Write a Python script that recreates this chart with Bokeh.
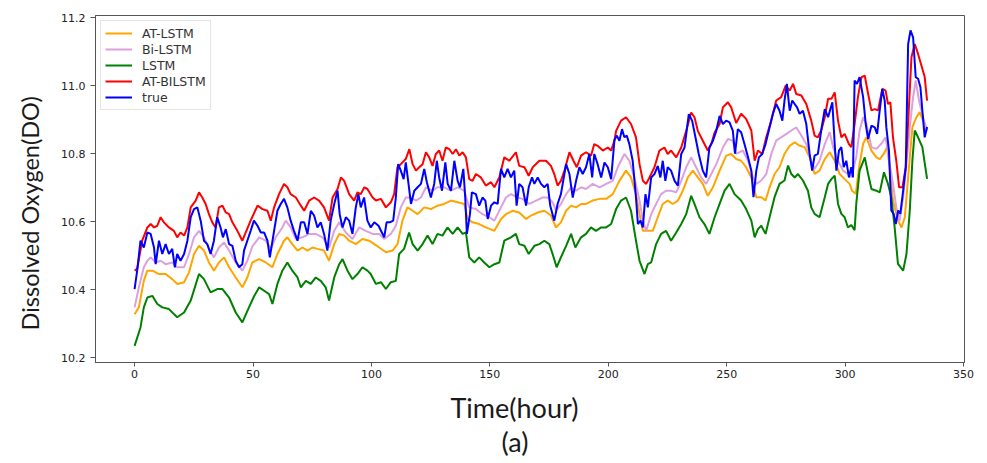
from bokeh.plotting import figure
from bokeh.models import Range1d, FixedTicker, Title, NumeralTickFormatter
from bokeh.embed import file_html
from bokeh.resources import INLINE

# ---------------- data ----------------
series_names = ["AT-LSTM", "Bi-LSTM", "LSTM", "AT-BILSTM", "true"]
x_ticks = [0, 50, 100, 150, 200, 250, 300, 350]
y_ticks = [10.2, 10.4, 10.6, 10.8, 11.0, 11.2]
x_title = "Time(hour)"
y_title = "Dissolved Oxygen(DO)"
panel_tag = "(a)"

t_true = [0, 1.1, 2.5, 3.9, 5.4, 6.8, 8.2, 8.9, 10.3, 11.7, 13.1, 14.5, 15.9, 17.0, 18.0, 19.4, 20.9, 22.3, 23.7, 25.1,
          26.5, 27.9, 29.3, 30.7, 32.1, 33.5, 34.9, 36.3, 37.3, 38.5, 39.9, 41.3, 42.7, 44.1, 45.5, 46.2, 47.6, 49.0, 50.4, 51.9,
          53.3, 54.7, 56.1, 57.1, 58.9, 60.3, 61.7, 63.1, 64.5, 65.9, 67.3, 68.8, 70.2, 71.6, 73.0, 74.4, 75.8, 77.2, 78.6, 80.0,
          81.4, 82.8, 84.3, 85.7, 86.6, 87.8, 89.2, 90.6, 92.0, 93.4, 94.5, 95.5, 96.9, 98.3, 99.7, 101.2, 103.0, 104.4, 105.4, 106.4,
          107.8, 109.2, 110.3, 111.3, 112.4, 113.6, 114.5, 115.5, 116.7, 118.1, 119.5, 120.9, 122.3, 123.4, 125.1, 126.5, 127.6, 128.6, 129.8, 131.2,
          132.2, 133.6, 135.0, 136.4, 137.4, 138.8, 139.6, 140.3, 141.6, 142.4, 144.1, 145.5, 146.9, 148.1, 149.1, 150.5, 151.9, 153.3, 154.7, 156.1,
          157.5, 158.9, 160.3, 161.3, 162.4, 163.8, 165.3, 166.4, 167.8, 168.8, 170.2, 171.6, 173.0, 174.4, 175.5, 177.2, 178.6, 180.0, 182.2, 183.6,
          185.0, 186.4, 187.8, 189.2, 190.6, 192.0, 193.2, 194.1, 195.5, 197.0, 198.4, 199.8, 201.2, 202.6, 203.6, 204.7, 205.8, 206.8, 207.8, 208.9,
          210.3, 211.7, 212.5, 213.6, 214.6, 215.7, 216.7, 218.1, 219.5, 220.9, 222.0, 223.0, 224.1, 225.1, 226.5, 228.0, 229.4, 230.8, 232.2, 234.0,
          235.4, 236.8, 238.2, 239.9, 241.3, 242.7, 244.2, 245.6, 247.0, 248.4, 249.8, 251.2, 252.6, 253.5, 254.7, 256.1, 257.5, 259.0, 260.4, 261.3,
          262.5, 263.6, 265.0, 266.4, 268.1, 269.5, 270.9, 272.3, 273.5, 274.4, 275.4, 276.6, 277.7, 278.7, 279.7, 280.8, 282.2, 283.6, 285.0, 286.1,
          287.1, 288.5, 289.9, 291.4, 292.8, 294.6, 295.6, 296.3, 297.4, 298.4, 299.4, 300.5, 301.6, 302.6, 303.3, 304.0, 305.0, 306.1, 307.6, 308.7,
          309.7, 311.1, 312.5, 313.5, 314.6, 315.7, 316.7, 317.4, 318.5, 319.5, 320.5, 321.4, 322.4, 323.3, 324.5, 325.6, 326.6, 327.6, 328.7, 329.8,
          330.8, 331.8, 332.6, 333.6, 334.6]
true_do = [10.402, 10.456, 10.544, 10.524, 10.568, 10.564, 10.524, 10.475, 10.544, 10.505, 10.534, 10.505, 10.52, 10.466, 10.505, 10.485, 10.505, 10.544, 10.613, 10.637,
           10.642, 10.603, 10.544, 10.534, 10.505, 10.544, 10.613, 10.583, 10.554, 10.578, 10.534, 10.529, 10.485, 10.466, 10.475, 10.515, 10.544, 10.573, 10.603, 10.588,
           10.568, 10.568, 10.544, 10.495, 10.573, 10.632, 10.652, 10.667, 10.642, 10.603, 10.573, 10.544, 10.598, 10.598, 10.564, 10.632, 10.618, 10.583, 10.598, 10.564,
           10.515, 10.603, 10.652, 10.691, 10.622, 10.583, 10.613, 10.603, 10.564, 10.642, 10.681, 10.642, 10.671, 10.603, 10.583, 10.598, 10.588, 10.568, 10.554, 10.598,
           10.598, 10.603, 10.671, 10.769, 10.75, 10.725, 10.774, 10.72, 10.652, 10.691, 10.701, 10.711, 10.755, 10.716, 10.671, 10.711, 10.779, 10.73, 10.691, 10.774,
           10.711, 10.691, 10.779, 10.72, 10.701, 10.755, 10.671, 10.564, 10.622, 10.686, 10.681, 10.647, 10.671, 10.662, 10.608, 10.647, 10.657, 10.652, 10.755, 10.73,
           10.755, 10.73, 10.75, 10.647, 10.711, 10.701, 10.647, 10.701, 10.73, 10.711, 10.73, 10.711, 10.701, 10.711, 10.647, 10.603, 10.652, 10.681, 10.769, 10.74,
           10.671, 10.72, 10.76, 10.74, 10.76, 10.799, 10.73, 10.799, 10.769, 10.73, 10.774, 10.76, 10.725, 10.84, 10.853, 10.838, 10.872, 10.848, 10.853, 10.828,
           10.779, 10.671, 10.593, 10.603, 10.583, 10.681, 10.642, 10.73, 10.74, 10.764, 10.73, 10.779, 10.72, 10.76, 10.75, 10.72, 10.706, 10.799, 10.818, 10.916,
           10.897, 10.848, 10.799, 10.75, 10.73, 10.818, 10.838, 10.867, 10.911, 10.887, 10.897, 10.892, 10.867, 10.80, 10.872, 10.863, 10.828, 10.789, 10.75, 10.672,
           10.75, 10.789, 10.799, 10.828, 10.877, 10.917, 10.946, 10.926, 10.897, 10.956, 11.005, 10.926, 10.956, 10.946, 10.936, 10.917, 10.926, 10.887, 10.799, 10.75,
           10.794, 10.799, 10.868, 10.931, 10.907, 10.951, 10.828, 10.75, 10.809, 10.819, 10.76, 10.779, 10.73, 10.76, 10.73, 11.015, 11.005, 11.025, 10.966, 10.887,
           10.843, 10.882, 10.877, 10.858, 10.927, 10.99, 10.956, 10.877, 10.809, 10.633, 10.623, 10.593, 10.633, 10.623, 10.691, 10.76, 11.122, 11.162, 11.142, 11.025,
           11.02, 10.995, 10.927, 10.848, 10.878]

t_at_bilstm = [0, 1.1, 3.2, 5.4, 6.8, 8.2, 9.6, 11.0, 12.4, 14.5, 16.6, 18.0, 19.4, 20.9, 22.3, 23.7, 25.8, 27.2, 28.6, 30.0,
               31.4, 32.8, 34.2, 35.6, 37.1, 38.5, 39.9, 41.3, 43.4, 45.5, 46.9, 49.0, 51.9, 54.0, 56.1, 57.5, 58.9, 61.0, 63.1, 64.5,
               65.9, 68.1, 70.2, 71.6, 73.7, 75.8, 77.9, 80.0, 82.1, 83.6, 85.7, 87.1, 88.5, 90.6, 92.7, 94.1, 95.5, 97.0, 98.3, 100.5,
               101.9, 104.0, 106.1, 108.2, 109.6, 111.0, 112.4, 114.5, 116.0, 117.4, 118.8, 120.2, 121.6, 123.0, 124.4, 125.8, 127.2, 128.6, 130.0, 131.4,
               132.9, 134.3, 135.7, 137.1, 138.5, 139.9, 141.3, 142.7, 144.1, 146.2, 148.3, 150.5, 151.9, 154.0, 156.1, 158.2, 161.0, 162.4, 164.6, 166.4,
               168.1, 170.9, 173.7, 175.8, 177.2, 178.6, 180.0, 181.5, 183.6, 185.3, 186.7, 188.5, 190.6, 192.7, 194.1, 195.5, 197.7, 199.8, 201.2, 202.6,
               203.3, 205.4, 207.5, 209.6, 211.7, 213.2, 214.6, 216.0, 217.4, 219.5, 221.6, 223.7, 225.1, 226.5, 228.7, 230.8, 232.9, 235.0, 236.4, 237.8,
               239.9, 242.0, 243.5, 244.9, 247.0, 248.4, 250.5, 251.9, 254.0, 256.1, 258.2, 260.4, 261.8, 263.2, 265.0, 266.7, 268.8, 270.9, 273.0, 274.9,
               276.6, 278.0, 279.4, 281.5, 283.6, 285.7, 287.1, 288.5, 289.9, 291.4, 292.8, 294.2, 295.6, 297.0, 298.4, 299.8, 301.6, 302.6, 304.0, 305.4,
               306.9, 308.3, 309.7, 311.1, 312.5, 313.9, 315.7, 317.1, 318.1, 319.1, 320.2, 321.6, 322.8, 324.2, 325.6, 327.0, 328.0, 329.4, 330.8, 332.2,
               333.6, 334.6]
at_bilstm = [10.456, 10.461, 10.544, 10.583, 10.593, 10.583, 10.588, 10.613, 10.598, 10.583, 10.573, 10.554, 10.568, 10.559, 10.583, 10.642, 10.662, 10.686, 10.671, 10.652,
             10.622, 10.598, 10.583, 10.642, 10.647, 10.627, 10.622, 10.598, 10.573, 10.544, 10.568, 10.603, 10.647, 10.637, 10.632, 10.603, 10.642, 10.681, 10.711, 10.701,
             10.681, 10.671, 10.647, 10.632, 10.662, 10.671, 10.662, 10.642, 10.603, 10.671, 10.696, 10.73, 10.72, 10.681, 10.662, 10.686, 10.681, 10.701, 10.696, 10.671,
             10.662, 10.667, 10.642, 10.657, 10.681, 10.76, 10.769, 10.784, 10.813, 10.769, 10.75, 10.76, 10.769, 10.804, 10.789, 10.764, 10.799, 10.809, 10.779, 10.818,
             10.813, 10.799, 10.813, 10.794, 10.804, 10.789, 10.725, 10.72, 10.74, 10.73, 10.706, 10.716, 10.701, 10.73, 10.789, 10.779, 10.804, 10.764, 10.76, 10.735,
             10.76, 10.779, 10.779, 10.764, 10.74, 10.706, 10.72, 10.75, 10.804, 10.779, 10.76, 10.794, 10.804, 10.794, 10.828, 10.823, 10.809, 10.818, 10.809, 10.838,
             10.867, 10.897, 10.907, 10.887, 10.848, 10.769, 10.72, 10.711, 10.73, 10.76, 10.809, 10.818, 10.799, 10.809, 10.789, 10.818, 10.867, 10.921, 10.907, 10.867,
             10.838, 10.809, 10.828, 10.862, 10.887, 10.936, 10.951, 10.936, 10.89, 10.917, 10.902, 10.868, 10.779, 10.809, 10.799, 10.848, 10.897, 10.956, 10.966, 11.0,
             10.985, 11.005, 10.975, 10.971, 10.946, 10.897, 10.853, 10.848, 10.868, 10.907, 10.961, 10.961, 10.98, 10.897, 10.848, 10.858, 10.828, 10.819, 10.887, 10.966,
             11.025, 11.029, 10.976, 10.927, 10.931, 10.927, 10.99, 10.985, 10.946, 10.951, 10.848, 10.779, 10.701, 10.701, 10.76, 10.946, 11.083, 11.122, 11.093, 11.059,
             11.025, 10.956]

t_bi_lstm = [0, 1.8, 3.9, 5.4, 6.8, 8.9, 11.0, 13.1, 15.9, 18.0, 20.9, 23.0, 25.1, 27.2, 29.3, 31.4, 33.5, 35.6, 37.8, 39.9,
             42.7, 45.5, 47.6, 49.7, 52.6, 55.4, 57.5, 59.6, 62.4, 63.8, 65.9, 68.1, 70.9, 73.7, 76.5, 79.3, 82.1, 84.3, 86.4, 89.2,
             92.0, 94.8, 97.6, 100.5, 103.3, 105.4, 108.2, 110.3, 112.4, 114.5, 116.7, 118.8, 120.9, 123.0, 125.8, 127.9, 130.7, 133.6, 136.4, 139.2,
             141.3, 144.1, 146.9, 149.8, 151.9, 154.7, 156.8, 158.9, 161.7, 163.8, 166.7, 169.5, 172.3, 174.4, 176.5, 178.0, 180.0, 182.2, 184.3, 186.4,
             188.5, 190.6, 193.4, 196.3, 199.1, 201.9, 204.0, 206.8, 208.9, 211.0, 213.2, 214.6, 216.0, 218.1, 220.2, 222.3, 224.4, 226.5, 228.7, 230.8,
             232.9, 235.0, 237.1, 239.2, 241.3, 243.5, 245.6, 248.4, 250.5, 252.6, 254.0, 256.8, 259.0, 261.1, 262.5, 264.6, 266.7, 268.8, 270.9, 273.0,
             275.2, 277.3, 279.4, 281.5, 283.6, 285.7, 287.1, 289.2, 291.4, 293.5, 294.9, 297.0, 299.1, 301.2, 302.6, 304.7, 306.1, 307.6, 309.0, 311.1,
             313.2, 315.3, 317.1, 318.8, 320.2, 321.6, 323.0, 324.5, 325.9, 327.3, 328.7, 329.8, 331.2, 332.9, 334.6]
bi_lstm = [10.348, 10.407, 10.466, 10.485, 10.495, 10.48, 10.485, 10.475, 10.48, 10.466, 10.466, 10.505, 10.554, 10.573, 10.554, 10.52, 10.495, 10.524, 10.539, 10.515,
           10.48, 10.456, 10.485, 10.527, 10.554, 10.544, 10.52, 10.554, 10.583, 10.603, 10.583, 10.549, 10.554, 10.564, 10.564, 10.554, 10.524, 10.573, 10.598, 10.568,
           10.549, 10.583, 10.573, 10.564, 10.564, 10.549, 10.564, 10.588, 10.642, 10.671, 10.671, 10.662, 10.671, 10.701, 10.691, 10.701, 10.701, 10.691, 10.701, 10.691,
           10.642, 10.637, 10.622, 10.613, 10.603, 10.642, 10.671, 10.681, 10.671, 10.667, 10.652, 10.662, 10.671, 10.671, 10.657, 10.632, 10.652, 10.681, 10.701, 10.691,
           10.701, 10.696, 10.711, 10.701, 10.711, 10.72, 10.76, 10.799, 10.779, 10.73, 10.662, 10.603, 10.573, 10.622, 10.652, 10.681, 10.691, 10.691, 10.686, 10.72,
           10.76, 10.789, 10.76, 10.73, 10.711, 10.74, 10.769, 10.818, 10.843, 10.838, 10.799, 10.809, 10.779, 10.73, 10.711, 10.721, 10.74, 10.799, 10.838, 10.848,
           10.858, 10.868, 10.877, 10.853, 10.828, 10.779, 10.755, 10.779, 10.828, 10.863, 10.819, 10.779, 10.75, 10.74, 10.731, 10.79, 10.868, 10.907, 10.887, 10.819,
           10.814, 10.829, 10.848, 10.77, 10.711, 10.642, 10.603, 10.672, 10.77, 10.878, 10.966, 11.015, 10.956, 10.907, 10.868]

t_at_lstm = [0, 1.8, 3.9, 5.4, 7.5, 10.3, 13.1, 15.9, 18.0, 20.9, 23.0, 25.1, 27.2, 29.3, 31.4, 33.5, 35.6, 37.8, 39.9, 42.7,
             45.5, 47.6, 49.7, 52.6, 55.4, 58.2, 60.3, 63.1, 64.5, 66.6, 68.8, 70.9, 73.0, 75.1, 77.2, 80.0, 82.1, 84.3, 86.4, 88.5,
             90.6, 93.4, 96.2, 99.0, 101.2, 103.3, 106.1, 108.9, 111.0, 113.1, 115.2, 117.4, 119.5, 122.3, 125.1, 127.9, 130.7, 133.6, 136.4, 139.2,
             140.6, 142.7, 145.5, 148.3, 151.9, 154.7, 156.8, 159.6, 162.4, 165.3, 167.4, 170.2, 173.0, 175.8, 177.9, 180.0, 182.2, 184.3, 186.4, 188.5,
             190.6, 193.4, 196.3, 199.1, 201.9, 204.7, 207.5, 209.6, 211.7, 213.2, 214.6, 216.7, 218.8, 220.9, 223.0, 225.1, 227.2, 229.4, 231.5, 233.6,
             235.7, 237.8, 239.9, 242.0, 244.2, 247.0, 249.8, 251.9, 254.0, 256.1, 258.2, 260.4, 262.5, 264.6, 266.4, 268.1, 270.2, 272.3, 274.4, 276.6,
             278.7, 280.8, 282.9, 285.0, 287.1, 289.2, 291.4, 293.5, 295.6, 297.7, 299.8, 301.9, 303.0, 304.5, 305.9, 307.6, 309.0, 311.1, 313.2, 314.6,
             316.3, 317.7, 318.8, 320.2, 322.4, 323.8, 325.2, 326.6, 328.4, 330.1, 331.5, 332.9, 334.3]
at_lstm = [10.328, 10.348, 10.426, 10.456, 10.456, 10.446, 10.446, 10.431, 10.417, 10.422, 10.451, 10.505, 10.529, 10.515, 10.48, 10.456, 10.48, 10.495, 10.466, 10.436,
           10.407, 10.436, 10.48, 10.49, 10.48, 10.466, 10.505, 10.544, 10.554, 10.534, 10.515, 10.524, 10.515, 10.524, 10.52, 10.515, 10.485, 10.534, 10.564, 10.559,
           10.544, 10.534, 10.549, 10.544, 10.534, 10.524, 10.51, 10.515, 10.534, 10.603, 10.642, 10.632, 10.622, 10.642, 10.637, 10.647, 10.652, 10.662, 10.657, 10.652,
           10.608, 10.598, 10.593, 10.583, 10.573, 10.608, 10.622, 10.632, 10.627, 10.608, 10.618, 10.627, 10.632, 10.618, 10.583, 10.598, 10.632, 10.647, 10.642, 10.652,
           10.652, 10.662, 10.667, 10.667, 10.681, 10.72, 10.75, 10.73, 10.681, 10.622, 10.573, 10.573, 10.573, 10.613, 10.652, 10.662, 10.652, 10.662, 10.691, 10.73,
           10.75, 10.73, 10.711, 10.676, 10.701, 10.75, 10.794, 10.799, 10.784, 10.779, 10.76, 10.73, 10.672, 10.672, 10.662, 10.701, 10.74, 10.76, 10.799, 10.823,
           10.833, 10.823, 10.819, 10.789, 10.74, 10.75, 10.784, 10.804, 10.779, 10.74, 10.725, 10.711, 10.69, 10.682, 10.76, 10.829, 10.848, 10.809, 10.789, 10.784,
           10.799, 10.819, 10.76, 10.662, 10.603, 10.583, 10.613, 10.731, 10.878, 10.907, 10.922, 10.897, 10.868]

t_lstm = [0, 2.5, 3.9, 5.4, 7.5, 9.6, 11.7, 14.5, 18.0, 20.9, 23.7, 27.2, 29.3, 32.1, 34.9, 37.1, 39.9, 42.7, 45.5, 48.3,
          50.4, 52.6, 54.7, 56.8, 58.2, 60.3, 62.4, 64.5, 66.6, 68.8, 70.2, 72.3, 74.4, 76.5, 78.6, 80.7, 82.1, 84.3, 86.4, 87.8,
          89.9, 92.0, 94.1, 96.2, 98.3, 99.7, 101.9, 104.0, 106.1, 108.2, 110.3, 111.7, 113.8, 115.9, 117.4, 119.5, 121.6, 123.7, 125.8, 127.9,
          130.0, 132.1, 134.3, 136.4, 138.5, 139.9, 141.3, 143.4, 145.5, 147.6, 149.8, 151.9, 154.0, 156.1, 158.9, 161.0, 162.4, 164.6, 166.4, 168.8,
          170.9, 173.0, 175.1, 176.5, 178.2, 180.0, 182.2, 184.3, 186.1, 188.5, 190.6, 192.7, 194.8, 197.0, 199.1, 201.2, 203.3, 205.4, 207.5, 209.6,
          211.7, 213.2, 215.3, 216.7, 218.1, 220.2, 222.3, 224.4, 226.5, 228.7, 230.8, 232.9, 235.0, 236.4, 238.5, 240.6, 242.7, 244.9, 247.0, 249.1,
          251.2, 253.3, 256.1, 258.2, 260.4, 261.8, 263.2, 264.6, 266.4, 268.1, 270.2, 272.3, 274.4, 275.9, 277.3, 278.7, 280.1, 282.2, 284.3, 285.7,
          287.1, 289.2, 291.4, 292.8, 294.2, 295.6, 297.0, 298.4, 299.8, 301.2, 302.6, 304.0, 304.7, 306.1, 308.3, 309.7, 311.1, 313.2, 314.6, 316.4,
          318.1, 319.5, 320.9, 322.3, 324.5, 325.9, 327.3, 328.4, 329.4, 330.8, 332.6, 334.6]
lstm = [10.235, 10.289, 10.348, 10.377, 10.382, 10.358, 10.348, 10.343, 10.319, 10.333, 10.368, 10.446, 10.431, 10.392, 10.402, 10.402, 10.377, 10.333, 10.304, 10.348,
        10.38, 10.407, 10.397, 10.387, 10.358, 10.417, 10.456, 10.48, 10.456, 10.436, 10.407, 10.426, 10.417, 10.436, 10.426, 10.407, 10.368, 10.436, 10.475, 10.49,
        10.456, 10.431, 10.446, 10.466, 10.456, 10.446, 10.417, 10.422, 10.402, 10.422, 10.426, 10.505, 10.52, 10.568, 10.534, 10.515, 10.534, 10.559, 10.534, 10.564,
        10.559, 10.583, 10.564, 10.583, 10.564, 10.568, 10.495, 10.48, 10.495, 10.48, 10.466, 10.475, 10.48, 10.544, 10.554, 10.564, 10.534, 10.529, 10.505, 10.529,
        10.534, 10.544, 10.534, 10.505, 10.466, 10.495, 10.529, 10.564, 10.524, 10.554, 10.564, 10.583, 10.573, 10.583, 10.583, 10.593, 10.637, 10.662, 10.671, 10.632,
        10.544, 10.485, 10.446, 10.475, 10.48, 10.534, 10.564, 10.573, 10.544, 10.568, 10.593, 10.622, 10.676, 10.652, 10.613, 10.593, 10.564, 10.613, 10.652, 10.691,
        10.711, 10.681, 10.662, 10.637, 10.603, 10.554, 10.578, 10.588, 10.564, 10.613, 10.672, 10.711, 10.721, 10.765, 10.74, 10.73, 10.74, 10.721, 10.691, 10.642,
        10.623, 10.613, 10.672, 10.711, 10.725, 10.735, 10.652, 10.623, 10.613, 10.583, 10.59, 10.575, 10.652, 10.75, 10.789, 10.74, 10.696, 10.691, 10.686, 10.745,
        10.711, 10.672, 10.584, 10.476, 10.456, 10.505, 10.633, 10.78, 10.868, 10.848, 10.819, 10.726]

# ---------------- figure ----------------
p = figure(width=987, height=463, output_backend="svg", toolbar_location=None,
           x_range=Range1d(-16.5, 350.4), y_range=Range1d(10.186, 11.206),
           min_border_left=95, min_border_right=23, min_border_top=15, min_border_bottom=101)
p.background_fill_color = "white"
p.border_fill_color = "white"
p.grid.visible = False
p.outline_line_color = "#555555"
p.outline_line_width = 1

spine = "#555555"
for ax in (p.xaxis[0], p.yaxis[0]):
    ax.axis_line_color = spine
    ax.major_tick_line_color = spine
    ax.minor_tick_line_color = None
    ax.major_tick_in = 0
    ax.major_label_text_font = "DejaVu Sans"
    ax.major_label_text_font_size = "11px"
    ax.major_label_text_color = "#222222"
p.xaxis.ticker = FixedTicker(ticks=x_ticks)
p.yaxis.ticker = FixedTicker(ticks=y_ticks)
p.yaxis.formatter = NumeralTickFormatter(format="0.0")
p.xaxis.major_tick_out = 4
p.xaxis.major_label_standoff = 3
p.yaxis.major_tick_out = 5
p.yaxis.major_label_standoff = 5

colors = ["#FFA500", "#DDA0DD", "#008000", "#FF0000", "#0000FF"]
xs = [t_at_lstm, t_bi_lstm, t_lstm, t_at_bilstm, t_true]
ys = [at_lstm, bi_lstm, lstm, at_bilstm, true_do]
for name, c, x, y in zip(series_names, colors, xs, ys):
    p.line(x, y, line_color=c, line_width=2, legend_label=name)

lg = p.legend[0]
lg.location = "top_left"
lg.margin = 5
lg.padding = 4
lg.spacing = 0
lg.glyph_width = 27
lg.glyph_height = 16
lg.label_height = 16
lg.label_standoff = 10
lg.label_text_font = "DejaVu Sans"
lg.label_text_font_size = "12.5px"
lg.label_text_color = "#333333"
lg.border_line_color = "#cccccc"
lg.border_line_width = 1
lg.background_fill_alpha = 0.8

title_font = "Lato"
p.add_layout(Title(text=y_title, align="left", offset=32, standoff=26, vertical_align="top",
                   text_font=title_font, text_font_size="23.5px", text_font_style="normal",
                   text_color="#1a1a1a"), "left")
p.add_layout(Title(text=x_title, align="left", offset=355, standoff=16,
                   text_font=title_font, text_font_size="27px", text_font_style="normal",
                   text_color="#1a1a1a"), "below")
p.add_layout(Title(text=panel_tag, align="left", offset=406, standoff=-18,
                   text_font=title_font, text_font_size="27px", text_font_style="normal",
                   text_color="#1a1a1a"), "below")

open("out.html", "w").write(file_html(p, INLINE))
